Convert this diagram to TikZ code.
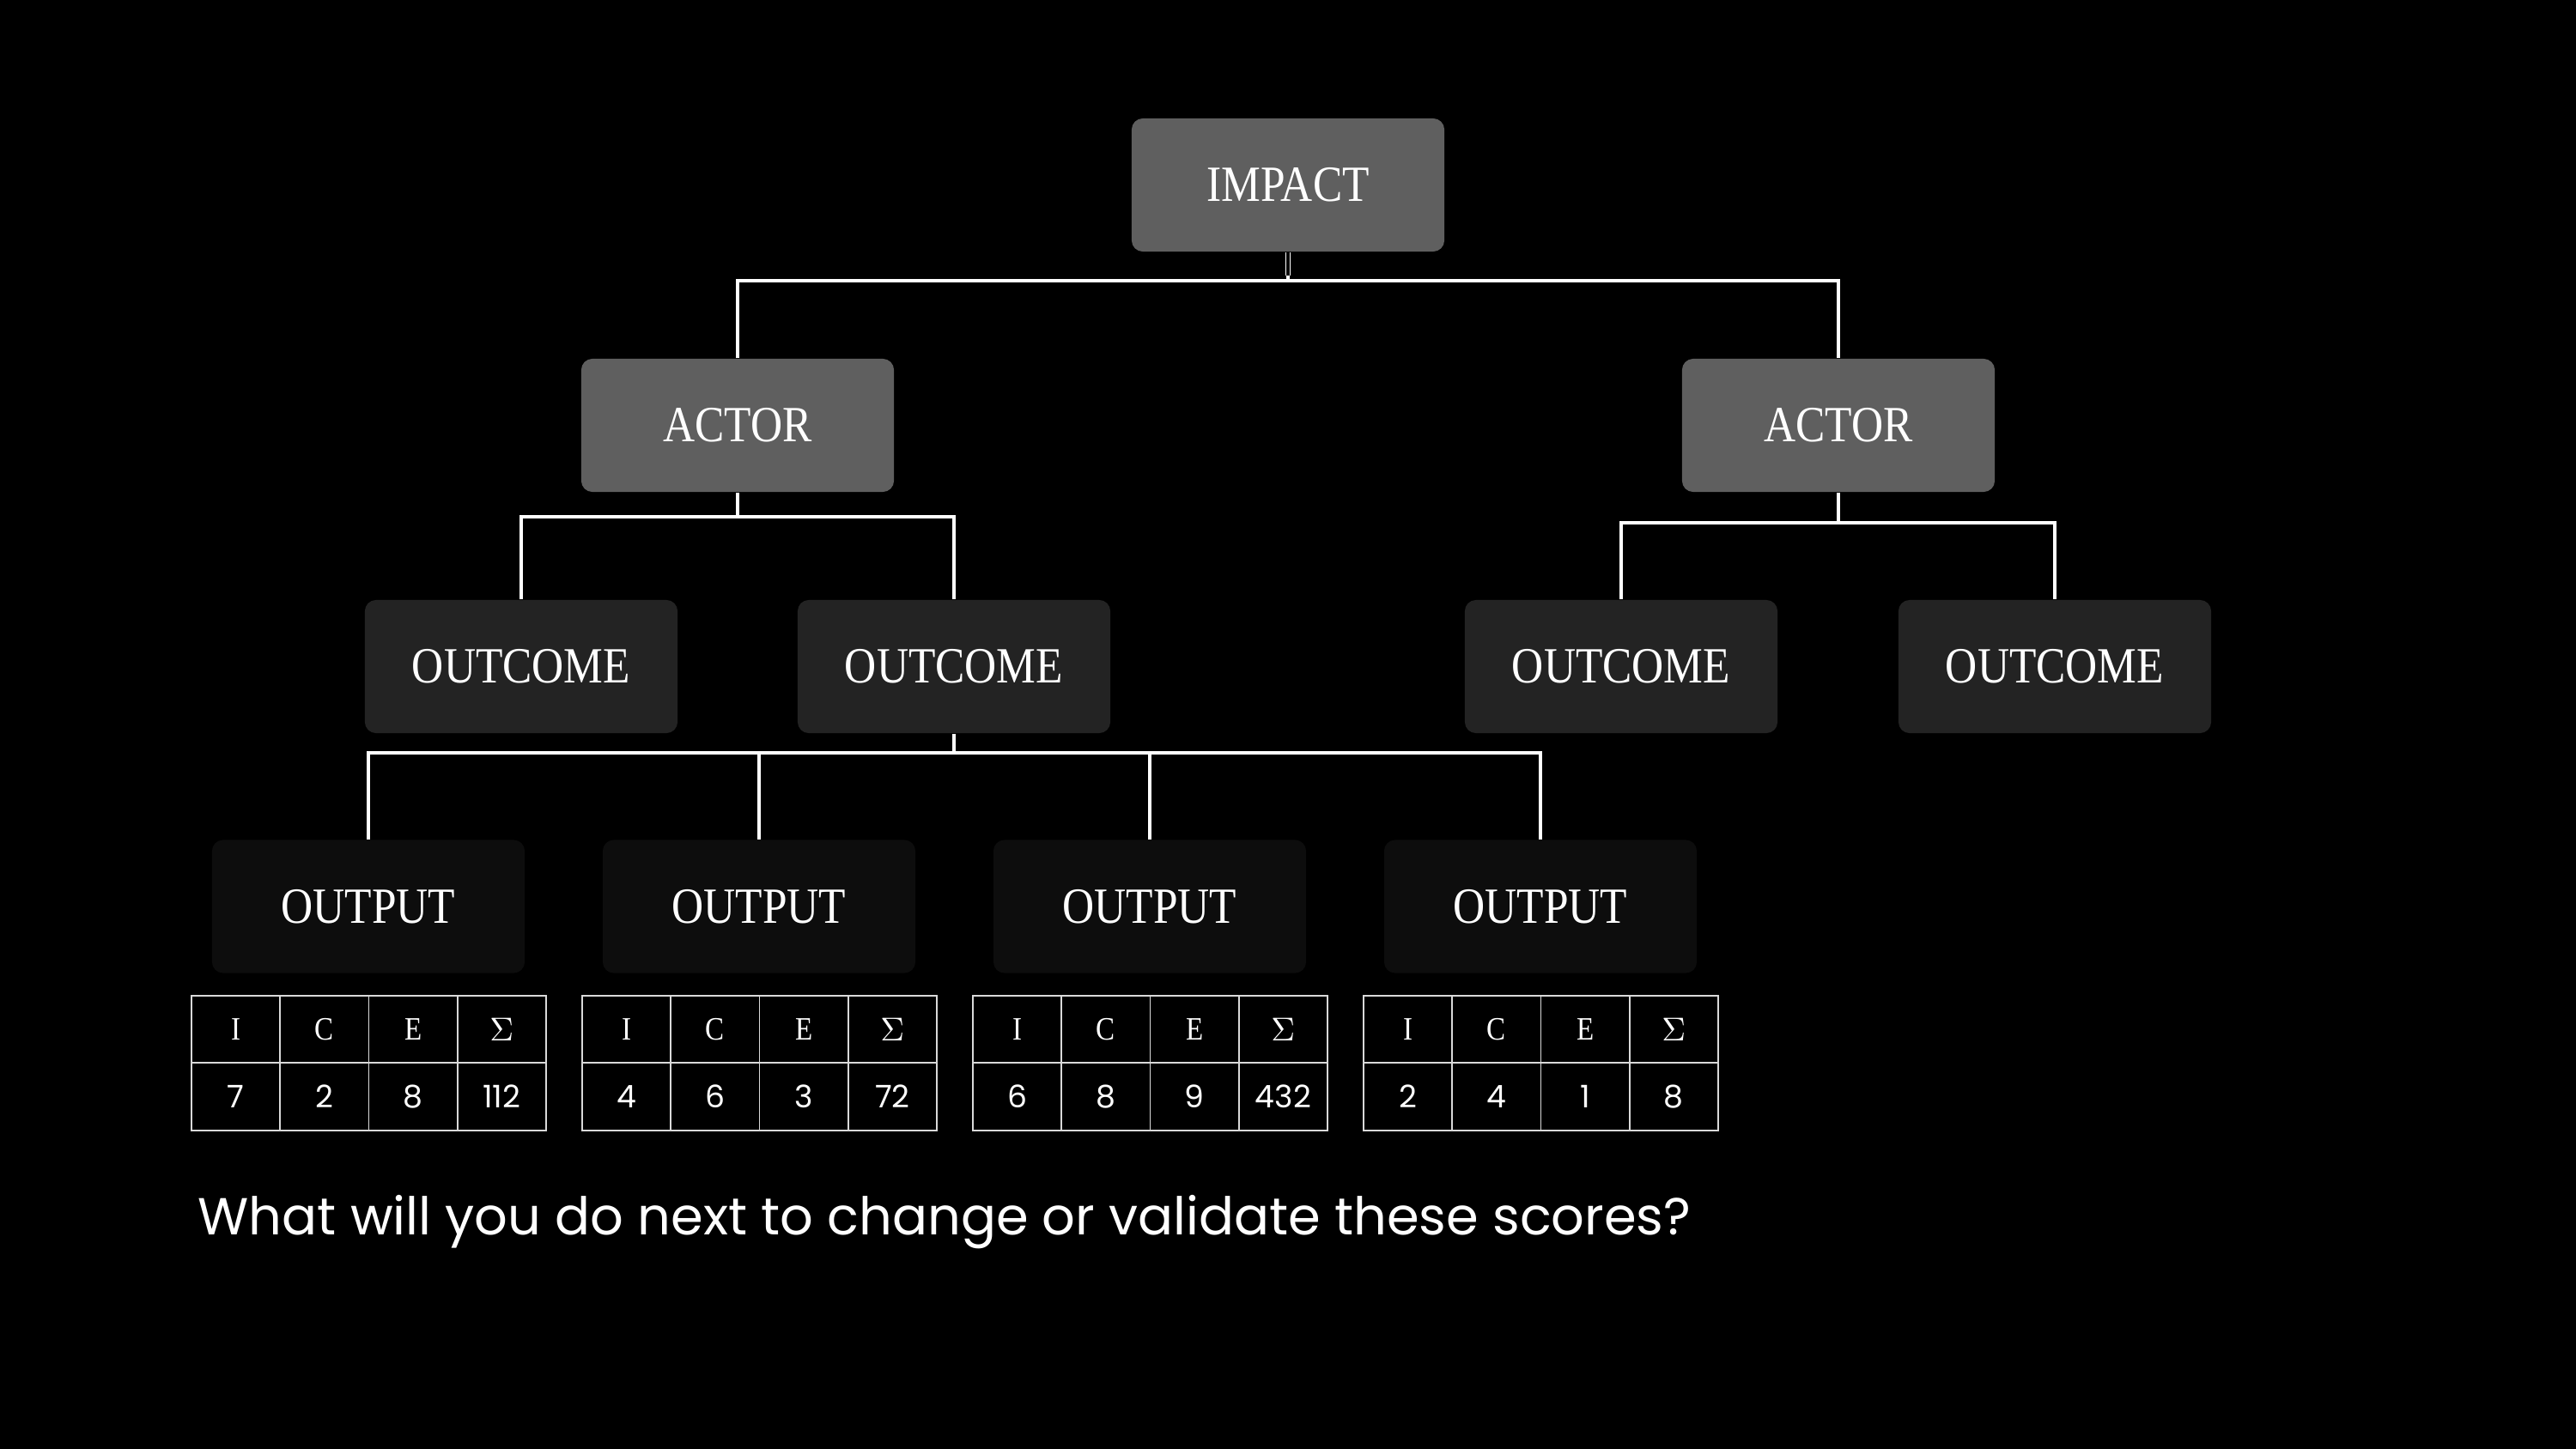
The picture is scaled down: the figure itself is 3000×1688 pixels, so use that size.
\documentclass[tikz,border=0pt]{standalone}
\usepackage{fontspec}
\setmainfont{Liberation Serif}[FakeStretch=0.87]
\newfontfamily\qfont{Poppins}
\begin{document}
\begin{tikzpicture}[x=0.01cm,y=-0.01cm,
  box/.style={rounded corners=0.13cm, minimum width=3.64cm, minimum height=1.55cm, inner sep=0pt, text=white, font=\fontsize{16.8}{19}\selectfont},
  topbox/.style={box, fill=boxgray},
  midbox/.style={box, fill=boxdark},
  lowbox/.style={box, fill=boxblack},
  conn/.style={draw=white, line width=0.95pt},
  cell/.style={draw=white!85!black, line width=0.45pt, minimum width=1.0325cm, minimum height=0.785cm, inner sep=0pt, text=white},
  hcell/.style={cell, font=\fontsize{10.8}{12}\selectfont},
  ncell/.style={cell, font=\qfont\fontsize{10.3}{12}\selectfont},
  question/.style={text=white, font=\qfont\fontsize{17.25}{21}\selectfont, inner sep=0pt, anchor=base west}
]
\definecolor{boxgray}{HTML}{5F5F5F}
\definecolor{boxdark}{HTML}{232323}
\definecolor{boxblack}{HTML}{0D0D0D}
\useasboundingbox (0,0) rectangle (3000,1688);
\fill[black] (0,0) rectangle (3000,1688);

% nodes
\node[topbox] (impact) at (1500,215.5) {IMPACT};
\node[topbox] (actorL) at (859,495.5) {ACTOR};
\node[topbox] (actorR) at (2141,495.5) {ACTOR};
\node[midbox] (oc1) at (607,776.5) {OUTCOME};
\node[midbox] (oc2) at (1111,776.5) {OUTCOME};
\node[midbox] (oc3) at (1888,776.5) {OUTCOME};
\node[midbox] (oc4) at (2393,776.5) {OUTCOME};
\node[lowbox] (op1) at (429,1056) {OUTPUT};
\node[lowbox] (op2) at (884,1056) {OUTPUT};
\node[lowbox] (op3) at (1339,1056) {OUTPUT};
\node[lowbox] (op4) at (1794,1056) {OUTPUT};

% junctions
\coordinate (jz) at (1500,321);
\coordinate (j0) at (1500,327);
\coordinate (j1) at (859,602);
\coordinate (j2) at (2141,609);
\coordinate (j3) at (1111,877);

% connectors
\draw[white, line width=0.45pt, double=black, double distance=0.9pt] (impact.south) -- (jz);
\draw[conn] (jz) -- (j0);
\draw[conn] (actorL.north) |- (j0) -| (actorR.north);
\draw[conn] (actorL.south) -- (j1);
\draw[conn] (oc1.north) |- (j1) -| (oc2.north);
\draw[conn] (actorR.south) -- (j2);
\draw[conn] (oc3.north) |- (j2) -| (oc4.north);
\draw[conn] (oc2.south) -- (j3);
\draw[conn] (op1.north) |- (j3) -| (op4.north);
\draw[conn] (op2.north) -- (op2.north |- j3);
\draw[conn] (op3.north) -- (op3.north |- j3);

% tables
\foreach \t/\cx/\a/\b/\c/\d in {1/429.5/7/2/8/112, 2/884.5/4/6/3/72, 3/1339.5/6/8/9/432, 4/1794.5/2/4/1/8}{
  \node[hcell] (t\t h1) at (\cx-154.875,1199) {I};
  \node[hcell] (t\t h2) at (\cx-51.625,1199) {C};
  \node[hcell] (t\t h3) at (\cx+51.625,1199) {E};
  \node[hcell] (t\t h4) at (\cx+154.875,1199) {$\Sigma$};
  \node[ncell] (t\t n1) at (\cx-154.875,1277.5) {\a};
  \node[ncell] (t\t n2) at (\cx-51.625,1277.5) {\b};
  \node[ncell] (t\t n3) at (\cx+51.625,1277.5) {\c};
  \node[ncell] (t\t n4) at (\cx+154.875,1277.5) {\d};
}

\node[question] (q) at (230,1438) {What will you do next to change or validate these scores?};
\end{tikzpicture}
\end{document}
